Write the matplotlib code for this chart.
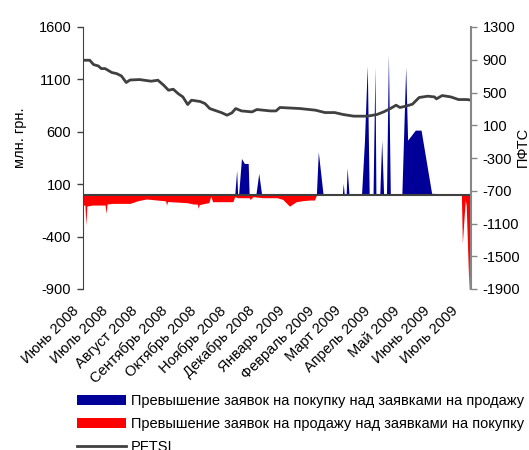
import numpy as np
import pandas as pd
import matplotlib
matplotlib.use("Agg")
import matplotlib.pyplot as plt
import matplotlib.dates as mdates
from matplotlib.transforms import ScaledTranslation

plt.rcParams["font.family"] = ["Liberation Sans", "DejaVu Sans"]
plt.rcParams["font.size"] = 10.5
plt.rcParams["axes.unicode_minus"] = False

# Превышение заявок на покупку (млн. грн.)
buy_dates = ["2008-06-01", "2008-11-06", "2008-11-08", "2008-11-09", "2008-11-10",
             "2008-11-13", "2008-11-16", "2008-11-20", "2008-11-21", "2008-11-28",
             "2008-12-01", "2008-12-04", "2009-01-30", "2009-02-01", "2009-02-06",
             "2009-02-20", "2009-02-21", "2009-02-22", "2009-02-26", "2009-02-27",
             "2009-02-28", "2009-03-02", "2009-03-03", "2009-03-05", "2009-03-18",
             "2009-03-21", "2009-03-24", "2009-03-26", "2009-03-30", "2009-04-01",
             "2009-04-02", "2009-04-06", "2009-04-08", "2009-04-10", "2009-04-13",
             "2009-04-15", "2009-04-17", "2009-04-29", "2009-05-03", "2009-05-05",
             "2009-05-13", "2009-05-19", "2009-05-30", "2009-06-19", "2009-06-20",
             "2009-07-10"]
buy_vals = [0, 0, 234, 0, 0,
            346, 298, 298, 0, 0,
            203, 0, 0, 409, 0,
            0, 12, 0, 0, 108,
            0, 0, 257, 0, 0,
            500, 1232, 0, 0, 1219,
            0, 0, 520, 0, 0,
            1340, 0, 0, 1219, 520,
            616, 616, 13, 6, 0,
            0]

# Превышение заявок на продажу (млн. грн.)
sell_dates = ["2008-06-01", "2008-06-03", "2008-06-04", "2008-06-05", "2008-06-11",
              "2008-06-24", "2008-06-25", "2008-06-26", "2008-07-02", "2008-07-20",
              "2008-07-28", "2008-08-06", "2008-08-17", "2008-08-24", "2008-08-26",
              "2008-08-27", "2008-08-28", "2008-08-31", "2008-09-17", "2008-09-24",
              "2008-09-28", "2008-09-29", "2008-09-30", "2008-10-06", "2008-10-10",
              "2008-10-12", "2008-10-14", "2008-11-04", "2008-11-06", "2008-11-09",
              "2008-11-21", "2008-11-22", "2008-11-25", "2008-12-05", "2008-12-20",
              "2008-12-26", "2009-01-02", "2009-01-09", "2009-01-16", "2009-01-23",
              "2009-01-28", "2009-01-30", "2009-03-01", "2009-06-29", "2009-06-30",
              "2009-07-01", "2009-07-04", "2009-07-05", "2009-07-08", "2009-07-09",
              "2009-07-10"]
sell_vals = [-99, -100, -290, -108, -99,
             -99, -178, -89, -83, -83,
             -58, -41, -51, -57, -60,
             -99, -65, -67, -76, -89,
             -90, -130, -95, -83, -76,
             -15, -67, -67, -19, -29,
             -29, -45, -19, -29, -29,
             -45, -110, -67, -57, -51,
             -51, -6, -5, -3, 0,
             -464, -50, -100, -950, -50,
             -30]

# индекс ПФТС
pfts_dates = ["2008-06-01", "2008-06-08", "2008-06-12", "2008-06-17", "2008-06-20",
              "2008-06-24", "2008-07-01", "2008-07-06", "2008-07-11", "2008-07-16",
              "2008-07-20", "2008-07-30", "2008-08-06", "2008-08-11", "2008-08-18",
              "2008-08-24", "2008-08-29", "2008-09-03", "2008-09-08", "2008-09-13",
              "2008-09-18", "2008-09-22", "2008-10-01", "2008-10-06", "2008-10-11",
              "2008-10-18", "2008-10-23", "2008-10-29", "2008-11-03", "2008-11-07",
              "2008-11-13", "2008-11-24", "2008-11-29", "2008-12-13", "2008-12-19",
              "2008-12-23", "2009-01-13", "2009-01-29", "2009-02-08", "2009-02-18",
              "2009-02-27", "2009-03-10", "2009-03-24", "2009-04-03", "2009-04-10",
              "2009-04-17", "2009-04-23", "2009-04-27", "2009-05-03", "2009-05-10",
              "2009-05-17", "2009-05-26", "2009-06-02", "2009-06-04", "2009-06-10",
              "2009-06-19", "2009-06-27", "2009-07-06", "2009-07-10"]
pfts_vals = [894, 894, 841, 824, 792,
             792, 744, 731, 702, 622,
             653, 658, 646, 638, 650,
             589, 528, 540, 487, 446,
             353, 406, 390, 365, 304,
             275, 255, 223, 251, 304,
             275, 263, 292, 275, 275,
             317, 304, 284, 255, 255,
             231, 211, 211, 231, 263,
             304, 345, 317, 333, 357,
             439, 455, 446, 422, 463,
             446, 414, 414, 406]

month_labels = ["Июнь 2008", "Июль 2008", "Август 2008", "Сентябрь 2008",
                "Октябрь 2008", "Ноябрь 2008", "Декабрь 2008", "Январь 2009",
                "Февраль 2009", "Март 2009", "Апрель 2009", "Май 2009",
                "Июнь 2009", "Июль 2009"]

buy_x = pd.to_datetime(buy_dates)
sell_x = pd.to_datetime(sell_dates)
pfts_x = pd.to_datetime(pfts_dates)
month_ticks = pd.date_range("2008-06-01", periods=len(month_labels), freq="MS")

fig = plt.figure(figsize=(5.29, 4.5), dpi=100)
ax = fig.add_axes([83 / 529, 1 - 289 / 450, 388 / 529, 262 / 450])
ax2 = ax.twinx()

blue = "#000099"
red = "#ff0000"
ax.fill_between(buy_x, 0, buy_vals, color=blue, linewidth=0, zorder=2,
                label="Превышение заявок на покупку над заявками на продажу")
ax.fill_between(sell_x, 0, sell_vals, color=red, linewidth=0, zorder=2,
                label="Превышение заявок на продажу над заявками на покупку")
ax.axhline(0, color="#404040", linewidth=1.5, zorder=3)
ax2.plot(pfts_x, pfts_vals, color="#404040", linewidth=2.0, label="PFTSI")

ax.set_xlim(pd.Timestamp("2008-06-01"), pd.Timestamp("2009-07-10"))
ax.set_ylim(-900, 1600)
ax.set_yticks(np.arange(-900, 1601, 500))
ax2.set_ylim(-1900, 1300)
ax2.set_yticks(np.arange(-1900, 1301, 400))

ax.set_xticks(month_ticks)
ax.set_xticklabels(month_labels, rotation=45, ha="right", va="center",
                   rotation_mode="anchor")
ax.tick_params(axis="x", length=0, pad=14)
for lbl in ax.get_xticklabels():
    lbl.set_transform(lbl.get_transform() + ScaledTranslation(-4.5 / 72, 0, fig.dpi_scale_trans))

ax.tick_params(axis="y", length=4.5, width=1, color="#404040", pad=4)
ax2.tick_params(axis="y", length=4.5, width=1, color="#868686", pad=4)

for a in (ax, ax2):
    a.spines["top"].set_visible(False)
    a.spines["bottom"].set_visible(False)
    a.set_facecolor("none")
ax.spines["right"].set_visible(False)
ax2.spines["left"].set_visible(False)
ax.spines["left"].set_color("#404040")
ax2.spines["right"].set_color("#868686")
ax2.spines["right"].set_linewidth(1.5)

fig.text(20 / 529, 1 - 138 / 450, "млн. грн.", rotation=90, ha="center", va="center")
fig.text(523 / 529, 1 - 147 / 450, "ПФТС", rotation=90, ha="center", va="center")

h1, l1 = ax.get_legend_handles_labels()
h2, l2 = ax2.get_legend_handles_labels()
fig.legend(h1 + h2, l1 + l2, loc="upper left", bbox_to_anchor=(77 / 529, 1 - 394 / 450),
           frameon=False, borderpad=0, borderaxespad=0, handlelength=3.35,
           handleheight=0.75, handletextpad=0.35, labelspacing=0.62)

fig.savefig("out.png", dpi=100)
